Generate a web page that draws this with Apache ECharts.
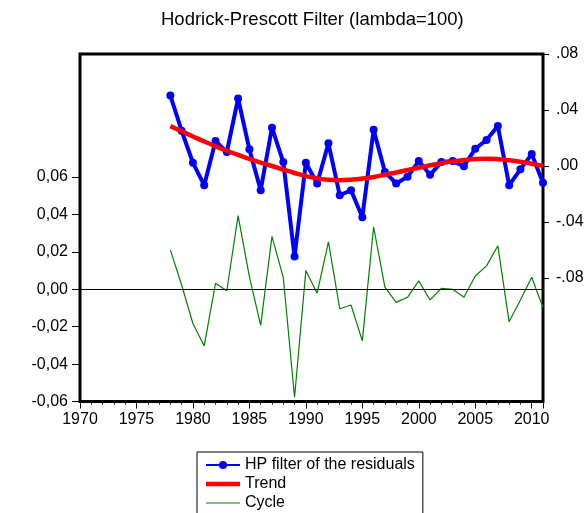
<!DOCTYPE html>
<html>
<head>
<meta charset="utf-8">
<script src="https://cdn.jsdelivr.net/npm/echarts@6/dist/echarts.min.js"></script>
<style>html,body{margin:0;padding:0;background:#fff;}#c{width:587px;height:513px;}</style>
</head>
<body>
<div id="c"></div>
<script>
var years = [1978,1979,1980,1981,1982,1983,1984,1985,1986,1987,1988,1989,1990,1991,1992,1993,1994,1995,1996,1997,1998,1999,2000,2001,2002,2003,2004,2005,2006,2007,2008,2009,2010,2011];
var hpResiduals = [0.0503,0.0252,0.0023,-0.0137,0.0178,0.0100,0.0482,0.0119,-0.0173,0.0274,0.0028,-0.0646,0.0023,-0.0125,0.0162,-0.0209,-0.0173,-0.0366,0.0259,-0.0042,-0.0125,-0.0077,0.0035,-0.0063,0.0028,0.0035,-0.0001,0.0123,0.0186,0.0286,-0.0137,-0.0024,0.0085,-0.0120];
var trend = [0.0285,0.0248,0.0211,0.0175,0.0141,0.0109,0.0079,0.0051,0.0024,0.0000,-0.0025,-0.0050,-0.0072,-0.0088,-0.0098,-0.0101,-0.0098,-0.0090,-0.0078,-0.0062,-0.0046,-0.0029,-0.0012,0.0005,0.0020,0.0033,0.0043,0.0050,0.0052,0.0049,0.0041,0.0030,0.0016,0.0001];
var cycle = [0.0211,0.0023,-0.0183,-0.0303,0.0032,-0.0008,0.0394,0.0068,-0.0193,0.0283,0.0064,-0.0577,0.0100,-0.0021,0.0253,-0.0104,-0.0084,-0.0276,0.0333,0.0011,-0.0070,-0.0043,0.0045,-0.0057,0.0005,0.0000,-0.0043,0.0071,0.0125,0.0233,-0.0174,-0.0057,0.0064,-0.0097];
var leftTicks = [-0.06,-0.04,-0.02,0,0.02,0.04,0.06];
var rightTicks = [-0.08,-0.04,0,0.04,0.08];
var seriesNames = ['HP filter of the residuals','Trend','Cycle'];
var titleText = 'Hodrick-Prescott Filter (lambda=100)';

function pairs(vals){ return years.map(function(y,i){ return [y, vals[i]]; }); }

var chart = echarts.init(document.getElementById('c'), null, {renderer:'canvas'});
var font = 'Liberation Sans, Arial, sans-serif';
chart.setOption({
  animation:false,
  backgroundColor:'#fff',
  title:{text:titleText,left:161,top:10,padding:0,textStyle:{fontFamily:font,fontSize:18.5,fontWeight:'normal',color:'#000'}},
  grid:{left:80,right:44,top:54,height:347.5,show:true,borderColor:'#000',borderWidth:3,backgroundColor:'transparent'},
  legend:{
    orient:'vertical',left:197,top:452,height:120,padding:[5,8,6,8],itemGap:3,itemWidth:34,itemHeight:10,
    borderColor:'#000',borderWidth:1,backgroundColor:'#fff',
    textStyle:{fontFamily:font,fontSize:16,color:'#000'},
    data:[
      {name:seriesNames[0]},
      {name:seriesNames[1],icon:'path://M0,0H34V4.5H0Z'},
      {name:seriesNames[2],icon:'path://M0,0H34V1.2H0Z'}
    ]
  },
  xAxis:{
    type:'value',min:1970,max:2011,interval:5,
    axisLine:{show:false,onZero:false},
    axisTick:{show:true,length:7,lineStyle:{color:'#000',width:1}},
    minorTick:{show:true,splitNumber:5,length:3,lineStyle:{color:'#000',width:1}},
    splitLine:{show:false},
    axisLabel:{fontFamily:font,fontSize:16,color:'#000',margin:10,showMaxLabel:false,formatter:function(v){return String(v);}}
  },
  yAxis:[
    {type:'value',min:-0.06,max:0.1258,position:'left',
     axisLine:{show:false},splitLine:{show:false},
     axisTick:{show:true,length:8,customValues:leftTicks,lineStyle:{color:'#000',width:1}},
     axisLabel:{fontFamily:font,fontSize:16,color:'#000',margin:12,customValues:leftTicks,
       formatter:function(v){return v.toFixed(2).replace('.',',');}}},
    {type:'value',min:-0.1682,max:0.08,position:'right',
     axisLine:{show:false},splitLine:{show:false},
     axisTick:{show:true,length:6,customValues:rightTicks,lineStyle:{color:'#000',width:1}},
     axisLabel:{fontFamily:font,fontSize:16,color:'#000',margin:13,customValues:rightTicks,
       formatter:function(v){var s=Math.abs(v).toFixed(2).replace(/^0/,''); return (v<-1e-9?'-':'')+s;}}}
  ],
  series:[
    {name:seriesNames[0],type:'line',yAxisIndex:1,data:pairs(hpResiduals),symbol:'circle',symbolSize:8,showSymbol:true,
     itemStyle:{color:'#0000ff'},lineStyle:{color:'#0000ff',width:4},z:3},
    {name:seriesNames[1],type:'line',yAxisIndex:1,data:pairs(trend),symbol:'none',smooth:true,
     itemStyle:{color:'#ff0000'},lineStyle:{color:'#ff0000',width:4.5},z:4},
    {name:seriesNames[2],type:'line',yAxisIndex:0,data:pairs(cycle),symbol:'none',
     itemStyle:{color:'#008000'},lineStyle:{color:'#008000',width:1.2},z:2,
     markLine:{silent:true,symbol:['none','none'],label:{show:false},lineStyle:{color:'#000',width:1,type:'solid'},data:[{yAxis:0}]}}
  ]
});
</script>
</body>
</html>
